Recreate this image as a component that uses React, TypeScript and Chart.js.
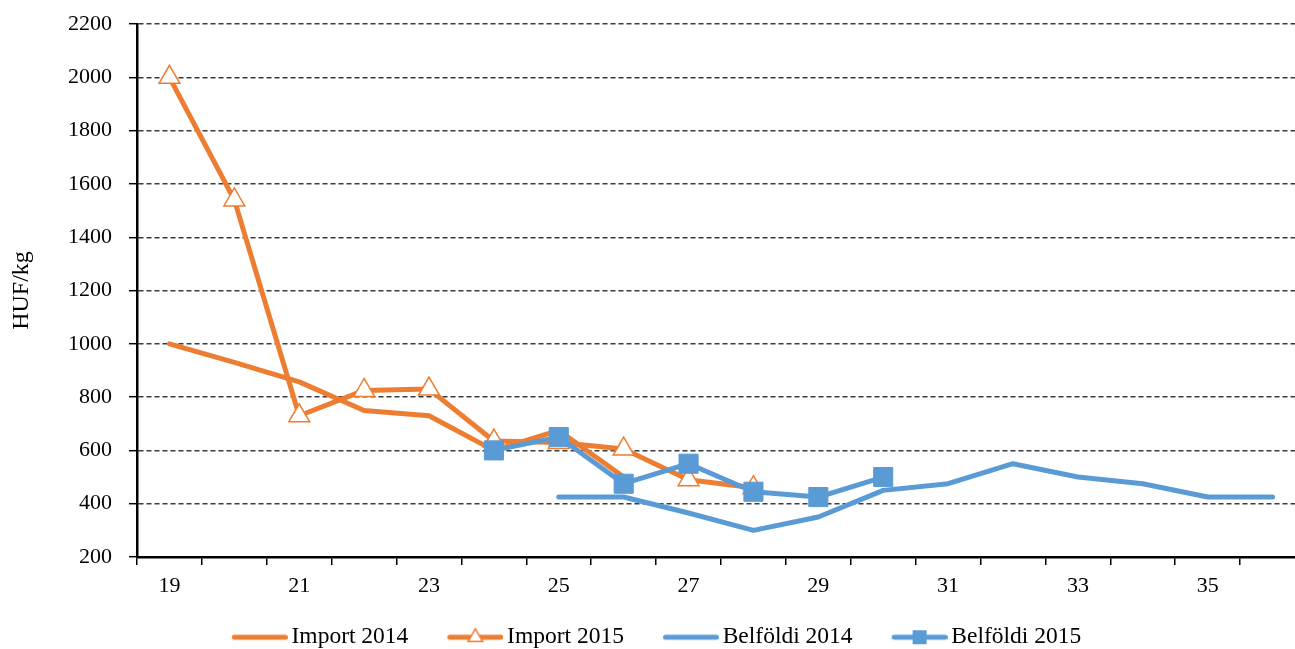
import React, { useEffect, useRef } from 'react';
import { Chart, registerables } from 'chart.js';

Chart.register(...registerables);

const categories = ['19', '20', '21', '22', '23', '24', '25', '26', '27', '28', '29', '30', '31', '32', '33', '34', '35', '36'];
const xTickLabels = ['19', '', '21', '', '23', '', '25', '', '27', '', '29', '', '31', '', '33', '', '35', ''];

const import2014 = [1000, 930, 857, 750, 730, 600, 675, 500, null, null, null, null, null, null, null, null, null, null];
const import2015 = [2000, 1540, 730, 825, 830, 635, 630, 605, 490, 460, null, null, null, null, null, null, null, null];
const belfoldi2014 = [null, null, null, null, null, null, 425, 425, 365, 300, 350, 450, 475, 550, 500, 475, 425, 425];
const belfoldi2015 = [null, null, null, null, null, 600, 650, 475, 550, 445, 425, 500, null, null, null, null, null, null];

const seriesNames = ['Import 2014', 'Import 2015', 'Belföldi 2014', 'Belföldi 2015'];

const ORANGE = '#ED7D31';
const BLUE = '#5B9BD5';
const FONT = 'Liberation Serif';

const CANVAS_W = 1305;
const CANVAS_H = 659;

function legendImage(color: string, marker: 'none' | 'triangle' | 'square') {
  const c = document.createElement('canvas');
  c.width = 72;
  c.height = 24;
  const ctx = c.getContext('2d')!;
  ctx.strokeStyle = color;
  ctx.lineWidth = 5;
  ctx.lineCap = 'round';
  ctx.beginPath();
  ctx.moveTo(18.5, 12);
  ctx.lineTo(69.5, 12);
  ctx.stroke();
  const cx = 44;
  const cy = 12;
  if (marker === 'triangle') {
    const r = 8.5;
    ctx.beginPath();
    ctx.moveTo(cx, cy - r);
    ctx.lineTo(cx + r * Math.sin((2 * Math.PI) / 3), cy - r * Math.cos((2 * Math.PI) / 3));
    ctx.lineTo(cx + r * Math.sin((4 * Math.PI) / 3), cy - r * Math.cos((4 * Math.PI) / 3));
    ctx.closePath();
    ctx.fillStyle = '#fff';
    ctx.fill();
    ctx.lineWidth = 1.5;
    ctx.lineJoin = 'miter';
    ctx.stroke();
  } else if (marker === 'square') {
    ctx.fillStyle = color;
    ctx.fillRect(cx - 7, cy - 7, 14, 14);
  }
  return c;
}

export default function App() {
  const ref = useRef<HTMLCanvasElement>(null);

  useEffect(() => {
    const images = [
      legendImage(ORANGE, 'none'),
      legendImage(ORANGE, 'triangle'),
      legendImage(BLUE, 'none'),
      legendImage(BLUE, 'square'),
    ];
    const tickFont = { family: FONT, size: 22 };
    const chart = new Chart(ref.current!, {
      type: 'line',
      data: {
        labels: categories,
        datasets: [
          {
            label: seriesNames[0],
            data: import2014,
            borderColor: ORANGE,
            backgroundColor: ORANGE,
            borderWidth: 5,
            pointRadius: 0,
            borderCapStyle: 'round',
            borderJoinStyle: 'round',
            tension: 0,
            order: 4,
          },
          {
            label: seriesNames[1],
            data: import2015,
            borderColor: ORANGE,
            backgroundColor: ORANGE,
            borderWidth: 5,
            pointStyle: 'triangle',
            pointRadius: 12,
            pointBackgroundColor: '#fff',
            pointBorderColor: ORANGE,
            pointBorderWidth: 1.5,
            borderCapStyle: 'round',
            borderJoinStyle: 'round',
            tension: 0,
            order: 3,
          },
          {
            label: seriesNames[2],
            data: belfoldi2014,
            borderColor: BLUE,
            backgroundColor: BLUE,
            borderWidth: 5,
            pointRadius: 0,
            borderCapStyle: 'round',
            borderJoinStyle: 'round',
            tension: 0,
            order: 2,
          },
          {
            label: seriesNames[3],
            data: belfoldi2015,
            borderColor: BLUE,
            backgroundColor: BLUE,
            borderWidth: 5,
            pointStyle: 'rect',
            pointRadius: 13.5,
            pointBackgroundColor: BLUE,
            pointBorderColor: BLUE,
            pointBorderWidth: 1,
            borderCapStyle: 'round',
            borderJoinStyle: 'round',
            tension: 0,
            order: 1,
          },
        ],
      },
      options: {
        animation: false,
        responsive: false,
        devicePixelRatio: 1,
        events: [],
        layout: { autoPadding: false, padding: { left: 0, top: 24, right: 0, bottom: 0 } },
        plugins: {
          tooltip: { enabled: false },
          legend: {
            position: 'bottom',
            labels: {
              usePointStyle: true,
              pointStyleWidth: 56,
              padding: 31,
              color: '#000',
              font: { family: FONT, size: 23.5 },
              generateLabels: (ch: any) => {
                const items = Chart.defaults.plugins.legend.labels.generateLabels(ch);
                return items.map((it: any) => ({ ...it, pointStyle: images[it.datasetIndex], fontColor: '#000' }));
              },
              sort: (a: any, b: any) => a.datasetIndex - b.datasetIndex,
            },
          },
        },
        scales: {
          x: {
            type: 'category',
            offset: true,
            grid: {
              offset: true,
              drawOnChartArea: false,
              drawTicks: true,
              tickLength: 8,
              color: '#000',
              lineWidth: 1.5,
            },
            border: { color: '#000', width: 2.5 },
            ticks: {
              autoSkip: false,
              maxRotation: 0,
              minRotation: 0,
              padding: 8,
              color: '#000',
              font: tickFont,
              callback: (_v: any, i: number) => xTickLabels[i],
            },
            afterFit: (s: any) => {
              s.height = 37.5;
            },
          },
          y: {
            min: 200,
            max: 2200,
            ticks: {
              stepSize: 200,
              padding: 17,
              color: '#000',
              font: tickFont,
              callback: (v: any) => String(v),
            },
            grid: {
              color: '#3a3a3a',
              lineWidth: 1.4,
              tickColor: '#000',
              tickLength: 8,
              tickWidth: 1.5,
            },
            border: { color: '#000', width: 2.5, dash: [5, 3] },
            title: {
              display: true,
              text: 'HUF/kg',
              color: '#000',
              font: { family: FONT, size: 24 },
              padding: { top: 7, bottom: 0 },
            },
            afterFit: (s: any) => {
              s.width = 137;
              s.paddingTop = 12;
              s.paddingBottom = 12;
            },
          },
        },
      },
    });
    return () => chart.destroy();
  }, []);

  return (
    <div
      style={{
        position: 'fixed',
        left: 0,
        top: 0,
        width: 1295,
        height: 649,
        overflow: 'hidden',
        background: '#fff',
      }}
    >
      <canvas ref={ref} width={CANVAS_W} height={CANVAS_H} style={{ display: 'block' }} />
    </div>
  );
}
